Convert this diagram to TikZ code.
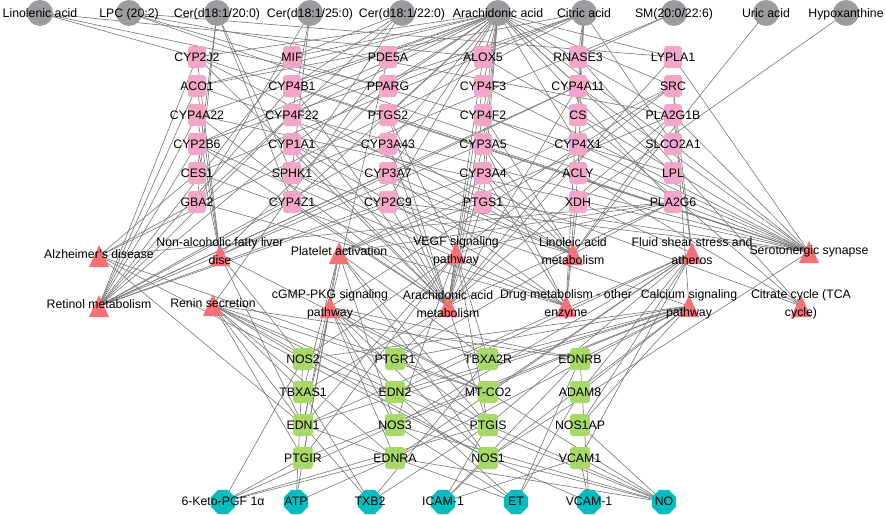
\documentclass[tikz,border=0pt]{standalone}
\usepackage{fontspec}
\setmainfont{Liberation Sans}
\usetikzlibrary{shapes.geometric,backgrounds}

\definecolor{metagray}{RGB}{155,155,160}
\definecolor{genepink}{RGB}{244,166,200}
\definecolor{pathred}{RGB}{246,112,120}
\definecolor{genegreen}{RGB}{168,216,104}
\definecolor{markcyan}{RGB}{0,190,192}
\definecolor{edgegray}{RGB}{125,125,125}

\tikzset{
  metab/.style={circle, fill=metagray, minimum size=26pt, inner sep=0pt},
  pinkgene/.style={rectangle, rounded corners=3pt, fill=genepink, minimum width=18pt, minimum height=22pt, inner sep=0pt},
  greengene/.style={rectangle, rounded corners=3pt, fill=genegreen, minimum width=20pt, minimum height=22pt, inner sep=0pt},
  pathtri/.style={rectangle, minimum width=20pt, minimum height=22pt, inner sep=0pt,
    path picture={\fill[pathred] (path picture bounding box.south west) -- (path picture bounding box.south east) -- (path picture bounding box.north) -- cycle;}},
  marker/.style={regular polygon, regular polygon sides=8, fill=markcyan, minimum size=26pt, inner sep=0pt},
  lbl/.style={font=\fontsize{12.3}{18}\selectfont, inner sep=0pt, text height=8.9pt, text depth=2.6pt, yshift=-1.3pt},
  lbltwo/.style={font=\fontsize{12.3}{18}\selectfont, align=center, inner sep=0pt},
  edge/.style={draw=edgegray, line width=0.65pt}
}

\begin{document}
\begin{tikzpicture}[x=1pt,y=-1pt]
  \useasboundingbox (0,0) rectangle (886,514);

  % Drawing metabolites
  \foreach \n/\x/\t in {lin/40/Linolenic acid, lpc/129/LPC (20:2), cer20/217/{Cer(d18:1/20:0)},
      cer25/310/{Cer(d18:1/25:0)}, cer22/402/{Cer(d18:1/22:0)}, ara/498/Arachidonic acid,
      cit/584/Citric acid, sm/674/{SM(20:0/22:6)}, uric/766/Uric acid, hyp/846/Hypoxanthine}
    {\node[metab] (\n) at (\x,13) {}; \node[lbl] at (\n) {\t};}

  % Drawing targets, one column at a time
  \foreach \n/\t [count=\i from 0] in {cyp2j2/CYP2J2, aco1/ACO1, cyp4a22/CYP4A22, cyp2b6/CYP2B6, ces1/CES1, gba2/GBA2}
    {\node[pinkgene] (\n) at (197,57+29*\i) {}; \node[lbl] at (\n) {\t};}
  \foreach \n/\t [count=\i from 0] in {mif/MIF, cyp4b1/CYP4B1, cyp4f22/CYP4F22, cyp1a1/CYP1A1, sphk1/SPHK1, cyp4z1/CYP4Z1}
    {\node[pinkgene] (\n) at (292,57+29*\i) {}; \node[lbl] at (\n) {\t};}
  \foreach \n/\t [count=\i from 0] in {pde5a/PDE5A, pparg/PPARG, ptgs2/PTGS2, cyp3a43/CYP3A43, cyp3a7/CYP3A7, cyp2c9/CYP2C9}
    {\node[pinkgene] (\n) at (388,57+29*\i) {}; \node[lbl] at (\n) {\t};}
  \foreach \n/\t [count=\i from 0] in {alox5/ALOX5, cyp4f3/CYP4F3, cyp4f2/CYP4F2, cyp3a5/CYP3A5, cyp3a4/CYP3A4, ptgs1/PTGS1}
    {\node[pinkgene] (\n) at (483,57+29*\i) {}; \node[lbl] at (\n) {\t};}
  \foreach \n/\t [count=\i from 0] in {rnase3/RNASE3, cyp4a11/CYP4A11, cs/CS, cyp4x1/CYP4X1, acly/ACLY, xdh/XDH}
    {\node[pinkgene] (\n) at (578,57+29*\i) {}; \node[lbl] at (\n) {\t};}
  \foreach \n/\t [count=\i from 0] in {lypla1/LYPLA1, src/SRC, pla2g1b/PLA2G1B, slco2a1/SLCO2A1, lpl/LPL, pla2g6/PLA2G6}
    {\node[pinkgene] (\n) at (673,57+29*\i) {}; \node[lbl] at (\n) {\t};}

  % Drawing pathways
  \foreach \n/\x/\y/\t in {alz/99/256/{Alzheimer's disease}, plt/339/253/{Platelet activation},
      sero/809/252/{Serotonergic synapse}, retinol/99/306/{Retinol metabolism}, renin/213/305/{Renin secretion}}
    {\node[pathtri] (\n) at (\x,\y) {}; \node[lbl] at (\x,\y-1.5) {\t};}
  \foreach \n/\x/\y/\ly/\t in {nafld/220/255/251/{Non-alcoholic fatty liver\\dise}, vegf/456/253/251/{VEGF signaling\\pathway},
      lino/573/254/251/{Linoleic acid\\metabolism}, fluid/692/253/251/{Fluid shear stress and\\atheros},
      cgmp/330/307/304/{cGMP-PKG signaling\\pathway}, aam/448/306/304/{Arachidonic acid\\metabolism},
      drug/566/306/304/{Drug metabolism - other\\enzyme}, calc/689/306/304/{Calcium signaling\\pathway},
      tca/801/306/304/{Citrate cycle (TCA\\cycle)}}
    {\node[pathtri] (\n) at (\x,\y) {}; \node[lbltwo] at (\x,\ly) {\t};}

  % Drawing core targets
  \foreach \n/\t [count=\i from 0] in {nos2/NOS2, tbxas1/TBXAS1, edn1/EDN1, ptgir/PTGIR}
    {\node[greengene] (\n) at (303,359+33*\i) {}; \node[lbl] at (\n) {\t};}
  \foreach \n/\t [count=\i from 0] in {ptgr1/PTGR1, edn2/EDN2, nos3/NOS3, ednra/EDNRA}
    {\node[greengene] (\n) at (395,359+33*\i) {}; \node[lbl] at (\n) {\t};}
  \foreach \n/\t [count=\i from 0] in {tbxa2r/TBXA2R, mtco2/MT-CO2, ptgis/PTGIS, nos1/NOS1}
    {\node[greengene] (\n) at (488,359+33*\i) {}; \node[lbl] at (\n) {\t};}
  \foreach \n/\t [count=\i from 0] in {ednrb/EDNRB, adam8/ADAM8, nos1ap/NOS1AP, vcam1/VCAM1}
    {\node[greengene] (\n) at (580,359+33*\i) {}; \node[lbl] at (\n) {\t};}

  % Drawing indicators
  \foreach \n/\x/\t in {keto/223/6-Keto-PGF 1α, atp/296/ATP, txb2/370/TXB2, icam/443/ICAM-1,
      et/516/ET, vcamm/589/VCAM-1, no/664/NO}
    {\node[marker] (\n) at (\x,502) {}; \node[lbl] at (\x,501) {\t};}

  % Drawing links
  \begin{pgfonlayer}{background}
  \foreach \s/\tl in {
      lin/{cyp2j2,pparg,alox5},
      lpc/{lypla1,pla2g1b,pla2g6,lpl},
      cer20/{sphk1,gba2,ces1,cyp4z1},
      cer25/{sphk1,gba2,cyp4f22},
      cer22/{sphk1,gba2,mif,cyp4b1},
      ara/{cyp2j2,aco1,cyp4a22,cyp2b6,cyp4b1,cyp4f22,cyp1a1,cyp4z1,mif,pde5a,pparg,ptgs2,cyp3a43,cyp3a7,cyp2c9,alox5,cyp4f3,cyp4f2,cyp3a5,cyp3a4,ptgs1,cyp4a11,cyp4x1,lypla1,src,pla2g1b,slco2a1,lpl,pla2g6},
      cit/{rnase3,cs,acly,aco1,cyp4a11,pparg,cyp2b6,ptgs2,ces1,slco2a1},
      sm/{rnase3,sphk1},
      uric/{lino},
      hyp/{xdh}}
    {\foreach \t in \tl {\draw[edge] (\s.center) -- (\t.center);}}
  \foreach \s/\tl in {
      retinol/{cyp2b6,cyp1a1,cyp3a4,cyp3a5,cyp3a7,cyp4a11,cyp4a22,cyp2c9,cyp3a43,cyp4b1,cyp2j2,aco1,cyp4z1,cyp4f22,mif},
      alz/{ptgs2,pla2g6,gba2,ces1,mtco2,nos1,edn1},
      nafld/{pparg,cyp2j2,cyp4a11,aco1,cyp4a22,cyp2b6,mtco2,edn1,nos2},
      plt/{ptgs1,src,pla2g6,pla2g1b,tbxas1,tbxa2r,nos3,ptgir,nos1,edn1,ptgis},
      vegf/{src,ptgs2,sphk1,pla2g6,nos3,edn1,ptgis,ptgir,tbxa2r,nos2},
      lino/{cyp2j2,cyp3a4,cyp2c9,pla2g1b,pla2g6,cyp3a5,cyp3a43,cyp3a7,cyp1a1,cyp4f2,ptgr1},
      fluid/{src,pla2g1b,xdh,nos3,vcam1,edn1,edn2,mtco2,ednra,nos1ap,ptgis,adam8},
      sero/{ptgs1,ptgs2,alox5,cyp2j2,cyp2c9,cyp4x1,cyp4a11,cyp4f2,cyp4f3,pla2g1b,pla2g6,cyp4a22,cyp4f22,cyp4b1,slco2a1,lypla1,nos1},
      renin/{pde5a,edn1,edn2,ednra,ednrb,nos1,nos2,ptgir,tbxas1,ptgis,mtco2},
      cgmp/{pde5a,src,nos3,nos1,ednra,ednrb,edn1,edn2,ptgir,mtco2,ptgis,tbxa2r},
      aam/{cyp2j2,cyp4a22,cyp2b6,cyp4b1,cyp4f22,cyp1a1,cyp4z1,ptgs2,cyp3a43,cyp3a7,cyp2c9,alox5,cyp4f3,cyp4f2,cyp3a5,cyp3a4,ptgs1,cyp4a11,cyp4x1,pla2g1b,pla2g6,lypla1,ptgis,tbxas1,ptgr1},
      drug/{ces1,xdh,cyp3a4,cyp3a5,cyp3a7,cyp2b6,gba2,cyp1a1,cyp4a11,acly},
      calc/{sphk1,src,nos1,nos2,nos3,ednra,ednrb,tbxa2r,ptgir,adam8,ptgr1,edn2,edn1,nos1ap},
      tca/{cs,aco1,acly,rnase3}}
    {\foreach \t in \tl {\draw[edge] (\s.center) -- (\t.center);}}
  \foreach \s/\tl in {
      keto/{ptgir,ptgis,ednra,nos3,nos2},
      atp/{ednra,nos2,ptgir},
      txb2/{tbxas1,tbxa2r,ptgis,edn1},
      icam/{nos1,vcam1,ednrb,ptgis},
      et/{edn1,edn2,ednrb,adam8,nos3},
      vcamm/{vcam1,nos1,ednrb},
      no/{nos1,nos2,nos3,nos1ap,vcam1,ptgis,ednra,mtco2}}
    {\foreach \t in \tl {\draw[edge] (\s.center) -- (\t.center);}}
  \end{pgfonlayer}
\end{tikzpicture}
\end{document}
